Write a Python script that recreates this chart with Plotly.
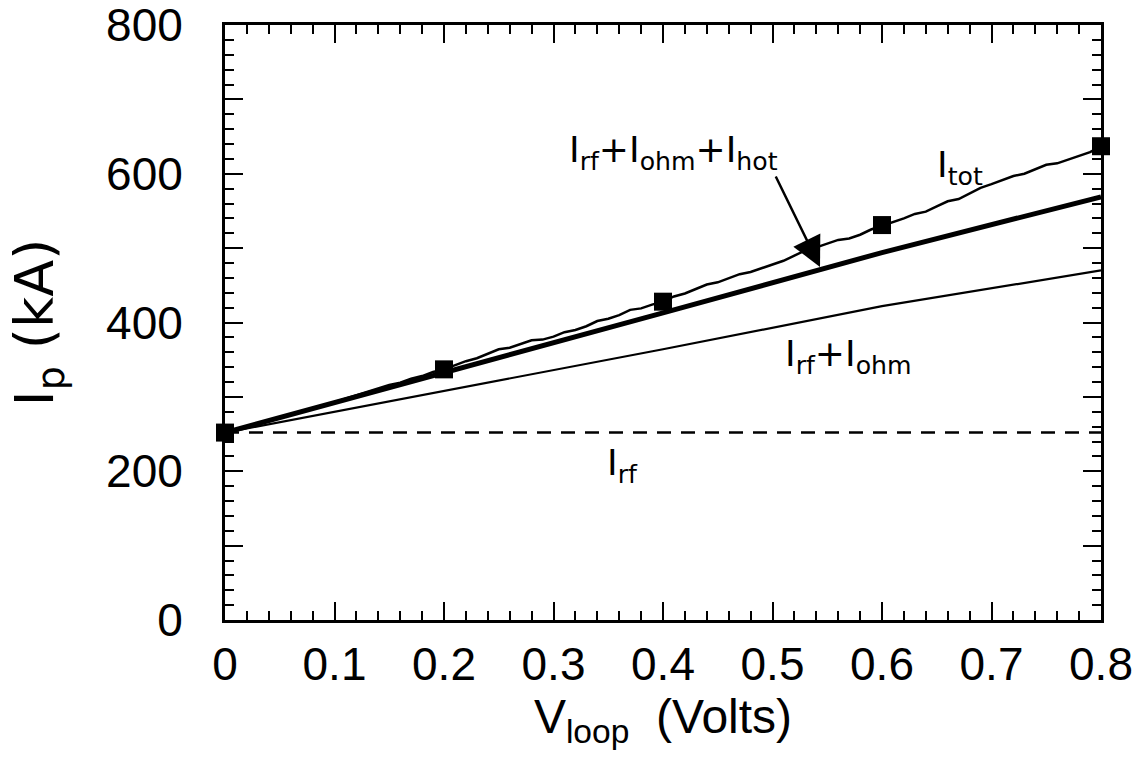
import plotly.graph_objects as go

# Data
v_markers = [0.0, 0.2, 0.4, 0.6, 0.8]
i_markers = [252, 337, 428, 531, 637]

v_lines = [0.0, 0.2, 0.4, 0.6, 0.8]
i_rf = [252, 252, 252, 252, 252]
i_rf_ohm = [252, 308, 364, 422, 470]
i_rf_ohm_hot = [252, 332, 413, 494, 569]

v_tot = [0.00, 0.01, 0.02, 0.03, 0.04, 0.05, 0.06, 0.07, 0.08, 0.09,
         0.10, 0.11, 0.12, 0.13, 0.14, 0.15, 0.16, 0.17, 0.18, 0.19,
         0.20, 0.21, 0.22, 0.23, 0.24, 0.25, 0.26, 0.27, 0.28, 0.29,
         0.30, 0.31, 0.32, 0.33, 0.34, 0.35, 0.36, 0.37, 0.38, 0.39,
         0.40, 0.41, 0.42, 0.43, 0.44, 0.45, 0.46, 0.47, 0.48, 0.49,
         0.50, 0.51, 0.52, 0.53, 0.54, 0.55, 0.56, 0.57, 0.58, 0.59,
         0.60, 0.61, 0.62, 0.63, 0.64, 0.65, 0.66, 0.67, 0.68, 0.69,
         0.70, 0.71, 0.72, 0.73, 0.74, 0.75, 0.76, 0.77, 0.78, 0.79, 0.80]
i_tot = [252, 256, 260, 264.5, 268, 272, 276, 280.5, 284.5, 289,
         293, 297.5, 302, 306, 310.5, 316, 319, 324.5, 328, 333.5,
         337, 343, 348, 352, 358, 364, 366, 371, 376, 377,
         381, 387, 390, 395, 402, 405, 410, 417, 419, 424,
         428, 435, 439, 445, 451, 454, 460, 465, 468, 473,
         479, 483, 490, 497, 501, 506, 511, 513, 518, 525,
         530, 534, 540, 546, 549, 556, 563, 566, 573, 581,
         586, 591, 597, 600, 606, 612, 614, 619, 625, 629, 637]

FONT = "Liberation Sans, Arial, sans-serif"
WIDE = "DejaVu Sans, Liberation Sans, sans-serif"

fig = go.Figure()

fig.add_trace(go.Scatter(x=v_lines, y=i_rf, mode="lines",
                         line=dict(color="black", width=2.5, dash="14px,10px")))
fig.add_trace(go.Scatter(x=v_lines, y=i_rf_ohm, mode="lines",
                         line=dict(color="black", width=2.2)))
fig.add_trace(go.Scatter(x=v_lines, y=i_rf_ohm_hot, mode="lines",
                         line=dict(color="black", width=5)))
fig.add_trace(go.Scatter(x=v_tot, y=i_tot, mode="lines",
                         line=dict(color="black", width=2.5)))
fig.add_trace(go.Scatter(x=v_markers, y=i_markers, mode="markers",
                         marker=dict(symbol="square", size=18, color="black"),
                         cliponaxis=False))

ann_font = dict(family=WIDE, size=36, color="black")
fig.add_annotation(x=0.410, y=629, text="I<sub>rf</sub>+I<sub>ohm</sub>+I<sub>hot</sub>",
                   showarrow=False, font=ann_font)
fig.add_annotation(x=0.5434, y=474.6, ax=0.5023, ay=598.3, axref="x", ayref="y",
                   text="", showarrow=True, arrowhead=2, arrowsize=2.4,
                   arrowwidth=2.5, arrowcolor="black", standoff=0)
fig.add_annotation(x=0.671, y=608, text="I<sub>tot</sub>", showarrow=False, font=ann_font)
fig.add_annotation(x=0.569, y=354, text="I<sub>rf</sub>+I<sub>ohm</sub>", showarrow=False, font=ann_font)
fig.add_annotation(x=0.363, y=208, text="I<sub>rf</sub>", showarrow=False, font=ann_font)

fig.update_layout(
    width=1133, height=763,
    margin=dict(l=225, r=32, t=25, b=143),
    paper_bgcolor="white", plot_bgcolor="white",
    showlegend=False,
    font=dict(family=FONT, color="black"),
)
fig.update_xaxes(
    range=[0, 0.8], tickvals=[0, 0.1, 0.2, 0.3, 0.4, 0.5, 0.6, 0.7, 0.8],
    ticktext=["0", "0.1", "0.2", "0.3", "0.4", "0.5", "0.6", "0.7", "0.8"],
    ticks="inside", ticklen=18, tickwidth=2, tickcolor="black",
    minor=dict(dtick=0.02, ticks="inside", ticklen=9, tickwidth=2, tickcolor="black"),
    showline=True, linewidth=3, linecolor="black", mirror="ticks",
    showgrid=False, zeroline=False, ticklabeloverflow="allow", automargin=False,
    tickfont=dict(size=46, family=FONT), ticklabelstandoff=2,
    title=dict(text="V<sub>loop</sub>  (Volts)", font=dict(size=48, family=FONT), standoff=6),
)
fig.update_yaxes(
    range=[0, 800], tickvals=[0, 100, 200, 300, 400, 500, 600, 700, 800],
    ticktext=["0", "", "200", "", "400", "", "600", "", "800"],
    ticks="inside", ticklen=18, tickwidth=2, tickcolor="black",
    minor=dict(dtick=20, ticks="inside", ticklen=9, tickwidth=2, tickcolor="black"),
    showline=True, linewidth=3, linecolor="black", mirror="ticks",
    showgrid=False, zeroline=False, ticklabeloverflow="allow", automargin=False,
    tickfont=dict(size=46, family=FONT), ticklabelstandoff=30,
    title=dict(text="I<sub>p</sub> (kA)", font=dict(size=54, family=WIDE), standoff=36),
)

fig.write_html("out.html")
